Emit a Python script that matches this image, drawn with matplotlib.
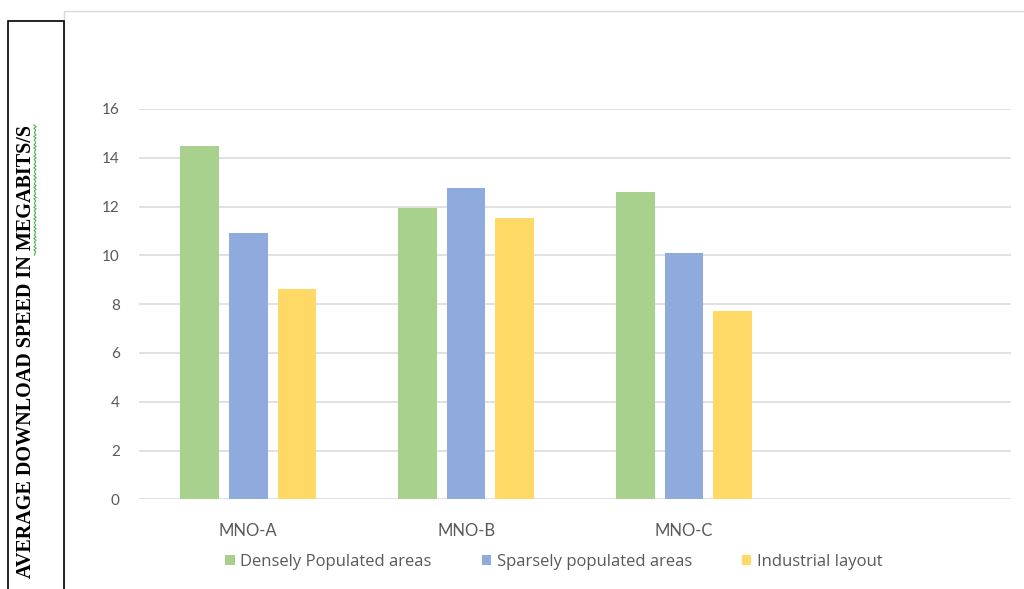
import numpy as np
import matplotlib.pyplot as plt
from matplotlib.patches import Rectangle, Patch
from matplotlib.lines import Line2D

# data
categories = ['MNO-A', 'MNO-B', 'MNO-C', '']
series_names = ['Densely Populated areas', 'Sparsely populated areas', 'Industrial layout']
dense = [14.5, 11.95, 12.6]
sparse = [10.9, 12.75, 10.1]
industrial = [8.6, 11.55, 7.7]
y_ticks = [0, 2, 4, 6, 8, 10, 12, 14, 16]
y_label = 'AVERAGE DOWNLOAD SPEED IN MEGABITS/S'

colors = ['#A9D18E', '#8FAADC', '#FFD966']
text_col = '#595959'
grid_col = '#D9D9D9'

plt.rcParams['font.family'] = ['Lato', 'DejaVu Sans']

fig = plt.figure(figsize=(10.24, 5.89), dpi=100)
ax = fig.add_axes([0.136, 0.1523, 0.8513, 0.6627])

x = np.arange(len(dense))
width = 0.177
step = 0.223
for i, vals in enumerate([dense, sparse, industrial]):
    ax.bar(x + (i - 1) * step, vals, width, color=colors[i], zorder=3)

ax.set_xlim(-0.5, len(categories) - 0.5)
ax.set_ylim(0, 16)
ax.set_yticks(y_ticks)
ax.set_xticks(np.arange(len(categories)))
ax.set_xticklabels(categories)
ax.grid(axis='y', color=grid_col, linewidth=1.1, zorder=0)
for s in ax.spines.values():
    s.set_visible(False)
ax.tick_params(axis='y', length=0, pad=14, labelsize=11, labelcolor=text_col)
ax.tick_params(axis='x', length=0, pad=17, labelsize=12, labelcolor=text_col)

# legend below categories
handles = [Patch(facecolor=c, edgecolor='none') for c in colors]
fig.legend(handles, series_names, loc='center', bbox_to_anchor=(0.541, 0.046),
           ncol=3, frameon=False, prop={'family': 'Open Sans', 'size': 12},
           labelcolor=text_col, handlelength=0.55, handleheight=0.6,
           handletextpad=0.35, columnspacing=3.0)

# chart frame (light gray)
fig.patches.append(Rectangle((64 / 1024, -0.01), 1.0, (589 - 11) / 589 + 0.01,
                             transform=fig.transFigure, fill=False,
                             edgecolor='#D9D9D9', linewidth=1))
# left box with the y label
fig.patches.append(Rectangle((8 / 1024, -0.01), 56 / 1024, (589 - 21) / 589 + 0.01,
                             transform=fig.transFigure, fill=False,
                             edgecolor='black', linewidth=1.2))
fig.text(26 / 1024, (589 - 352) / 589, y_label, rotation=90, ha='center', va='center',
         family='Liberation Serif', fontweight='bold', fontsize=14.5, color='black')

# spell-check squiggle under "MEGABITS/S"
yy = np.linspace(125, 255, 80)
xx = 35 + 1.2 * np.sin(yy * 1.6)
fig.add_artist(Line2D(xx / 1024, (589 - yy) / 589, transform=fig.transFigure,
                      color='#4CAF50', linewidth=0.8))

fig.savefig('out.png', dpi=100)
